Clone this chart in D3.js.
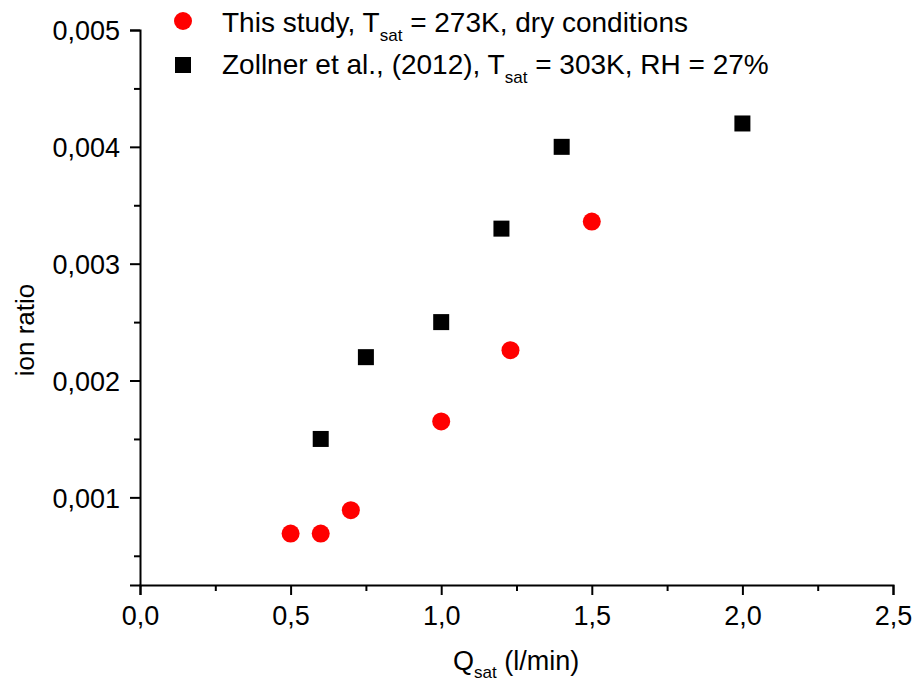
<!DOCTYPE html>
<html>
<head>
<meta charset="utf-8">
<script src="https://cdn.jsdelivr.net/npm/d3@7"></script>
<style>
  body { margin: 0; background: #fff; }
  svg { font-family: "Liberation Sans", Arial, sans-serif; }
</style>
</head>
<body>
<div class="graph"></div>
<script>
// data
var studyQ = [0.5, 0.6, 0.7, 1.0, 1.23, 1.5];
var studyRatio = [0.00069, 0.00069, 0.00089, 0.00165, 0.00226, 0.00336];
var zollnerQ = [0.6, 0.75, 1.0, 1.2, 1.4, 2.0];
var zollnerRatio = [0.0015, 0.0022, 0.0025, 0.0033, 0.004, 0.0042];
var xTicks = [0, 0.5, 1.0, 1.5, 2.0, 2.5];
var xMinor = [0.25, 0.75, 1.25, 1.75, 2.25];
var yTicks = [0.001, 0.002, 0.003, 0.004, 0.005];
var yMinor = [0.0005, 0.0015, 0.0025, 0.0035, 0.0045];

var width = 915;
var height = 683;
var plotLeft = 140, plotRight = 893, plotTop = 30, plotBottom = 585;

var locale = d3.formatLocale({decimal: ",", thousands: ".", grouping: [3], currency: ["", ""]});

var svg = d3.select(".graph").append("svg")
  .attr("width", width)
  .attr("height", height);

var x = d3.scaleLinear().domain([0, 2.5]).range([plotLeft, plotRight]);
var y = d3.scaleLinear().domain([0.00025, 0.005]).range([plotBottom, plotTop]);

// minor ticks first, then major axis on top
var xMinorAxis = d3.axisBottom(x).tickValues(xMinor).tickSize(6).tickFormat("");
var yMinorAxis = d3.axisLeft(y).tickValues(yMinor).tickSize(6).tickFormat("");

svg.append("g").attr("class", "minor")
  .attr("transform", "translate(0," + plotBottom + ")")
  .call(xMinorAxis);
svg.append("g").attr("class", "minor")
  .attr("transform", "translate(" + plotLeft + ",0)")
  .call(yMinorAxis);

var xAxis = d3.axisBottom(x).tickValues(xTicks).tickSize(10).tickPadding(11)
  .tickFormat(locale.format(".1f"));
var yAxis = d3.axisLeft(y).tickValues(yTicks).tickSize(10).tickPadding(10)
  .tickFormat(locale.format(".3f"));

var xAxisGroup = svg.append("g")
  .attr("transform", "translate(0," + plotBottom + ")")
  .call(xAxis);
var yAxisGroup = svg.append("g")
  .attr("transform", "translate(" + plotLeft + ",0)")
  .call(yAxis);

svg.selectAll(".domain").attr("stroke", "#000").attr("stroke-width", 2);
svg.selectAll(".tick line").attr("stroke", "#000").attr("stroke-width", 2);
svg.selectAll(".minor .domain").remove();
svg.selectAll(".tick text")
  .attr("fill", "#000")
  .attr("font-size", 27)
  .attr("font-family", "Liberation Sans, Arial, sans-serif");
yAxisGroup.selectAll(".tick text").attr("dy", "0.36em");

// points
var studyData = studyQ.map(function (q, i) { return {q: q, r: studyRatio[i]}; });
var zollnerData = zollnerQ.map(function (q, i) { return {q: q, r: zollnerRatio[i]}; });

svg.append("g").selectAll("rect")
  .data(zollnerData)
  .enter().append("rect")
  .attr("x", d => x(d.q) - 8)
  .attr("y", d => y(d.r) - 8)
  .attr("width", 16)
  .attr("height", 16)
  .attr("fill", "#000");

svg.append("g").selectAll("circle")
  .data(studyData)
  .enter().append("circle")
  .attr("cx", d => x(d.q))
  .attr("cy", d => y(d.r))
  .attr("r", 9)
  .attr("fill", "#ff0000");

// axis titles
var xTitle = svg.append("text")
  .attr("x", 453)
  .attr("y", 670)
  .attr("font-size", 27);
xTitle.append("tspan").text("Q");
xTitle.append("tspan").attr("dy", 8).attr("font-size", 17).text("sat");
xTitle.append("tspan").attr("dy", -8).text(" (l/min)");

svg.append("text")
  .attr("transform", "translate(34,330) rotate(-90)")
  .attr("text-anchor", "middle")
  .attr("font-size", 26)
  .text("ion ratio");

// legend
var legend = svg.append("g");
legend.append("circle")
  .attr("cx", 183).attr("cy", 21).attr("r", 9).attr("fill", "#ff0000");
legend.append("rect")
  .attr("x", 175).attr("y", 57).attr("width", 16).attr("height", 16).attr("fill", "#000");

var l1 = legend.append("text").attr("x", 222).attr("y", 32).attr("font-size", 28);
l1.append("tspan").text("This study, T");
l1.append("tspan").attr("dy", 9).attr("font-size", 17).text("sat");
l1.append("tspan").attr("dy", -9).text(" = 273K, dry conditions");

var l2 = legend.append("text").attr("x", 222).attr("y", 74).attr("font-size", 28);
l2.append("tspan").text("Zollner et al., (2012), T");
l2.append("tspan").attr("dy", 9).attr("font-size", 17).text("sat");
l2.append("tspan").attr("dy", -9).text(" = 303K, RH = 27%");
</script>
</body>
</html>
